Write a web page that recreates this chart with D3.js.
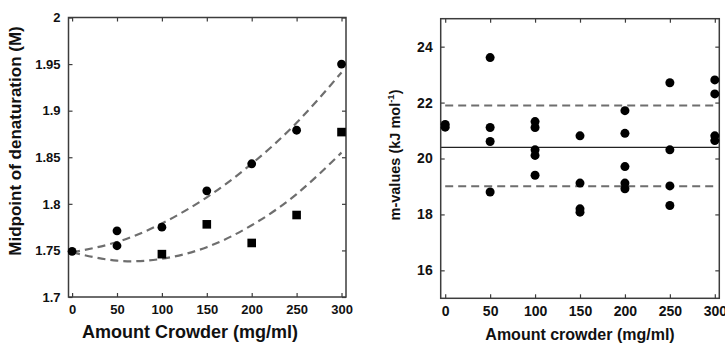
<!DOCTYPE html>
<html>
<head>
<meta charset="utf-8">
<script src="https://cdn.jsdelivr.net/npm/d3@7"></script>
<style>
  html, body { margin: 0; padding: 0; background: #fff; }
  svg { display: block; }
  text { font-family: "Liberation Sans", Arial, Helvetica, sans-serif; font-weight: bold; fill: #111; }
</style>
</head>
<body>
<svg id="chart" width="725" height="347"></svg>
<script>
// ---- Panel A: midpoint of denaturation vs crowder concentration ----
const crowderTicks = [0, 50, 100, 150, 200, 250, 300];
const midTicks = [1.7, 1.75, 1.8, 1.85, 1.9, 1.95, 2.0];

const circleConc = [0, 50, 50, 100, 150, 200, 250, 300];
const circleMid  = [1.749, 1.771, 1.755, 1.775, 1.814, 1.843, 1.879, 1.950];

const squareConc = [100, 150, 200, 250, 300];
const squareMid  = [1.746, 1.778, 1.758, 1.788, 1.877];

// dashed fit curves, sampled along the concentration axis
const fitConc  = [0, 50, 100, 150, 200, 250, 300];
const fitUpper = [1.748, 1.759, 1.779, 1.807, 1.843, 1.887, 1.941];
const fitLower = [1.748, 1.739, 1.741, 1.7535, 1.777, 1.8105, 1.855];

// ---- Panel B: m-values vs crowder concentration ----
const mTicks = [16, 18, 20, 22, 24];
const mConc = [0, 0,
  50, 50, 50, 50,
  100, 100, 100, 100, 100,
  150, 150, 150, 150,
  200, 200, 200, 200, 200,
  250, 250, 250, 250,
  300, 300, 300, 300];
const mValue = [21.22, 21.12,
  23.61, 21.11, 20.61, 18.80,
  21.32, 21.11, 20.31, 20.11, 19.40,
  20.81, 19.12, 18.20, 18.08,
  21.71, 20.90, 19.71, 19.12, 18.92,
  22.71, 20.31, 19.02, 18.32,
  22.81, 22.31, 20.81, 20.64];
const mMean = 20.40;
const mBand = [21.90, 19.01];

const svg = d3.select("#chart");
const frameColor = "#3c3c3c";
const dashColor = "#6e6e6e";

// draws the boxed frame with inward ticks on all four sides
function drawFrame(g, x, y, xt, yt, fs, pad, yFmt) {
  const [x0, x1] = x.range();
  const [y0, y1] = y.range();
  const tick = 4;
  const bottom = g.append("g").attr("transform", `translate(0,${y0})`)
    .call(d3.axisBottom(x).tickValues(xt).tickSizeInner(-tick).tickSizeOuter(0).tickPadding(pad));
  const top = g.append("g").attr("transform", `translate(0,${y1})`)
    .call(d3.axisTop(x).tickValues(xt).tickSizeInner(-tick).tickSizeOuter(0).tickFormat(""));
  const left = g.append("g").attr("transform", `translate(${x0},0)`)
    .call(d3.axisLeft(y).tickValues(yt).tickSizeInner(-tick).tickSizeOuter(0).tickPadding(pad).tickFormat(yFmt));
  const right = g.append("g").attr("transform", `translate(${x1},0)`)
    .call(d3.axisRight(y).tickValues(yt).tickSizeInner(-tick).tickSizeOuter(0).tickFormat(""));
  [bottom, top, left, right].forEach(a => {
    a.select(".domain").remove();
    a.selectAll(".tick line").attr("stroke", frameColor).attr("stroke-width", 1.2);
    a.selectAll("text").attr("font-size", fs).attr("fill", "#111")
      .attr("font-family", "'Liberation Sans', Arial, sans-serif").attr("font-weight", "bold");
  });
  g.append("rect")
    .attr("x", x0).attr("y", y1)
    .attr("width", x1 - x0).attr("height", y0 - y1)
    .attr("fill", "none").attr("stroke", frameColor).attr("stroke-width", 1.5);
}

// ---------- Panel A ----------
const xA = d3.scaleLinear().domain([-4, 305]).range([68.5, 346]);
const yA = d3.scaleLinear().domain([1.7, 2.0]).range([297, 17.5]);
const gA = svg.append("g");

const line = d3.line().curve(d3.curveNatural);
[fitUpper, fitLower].forEach(vals => {
  gA.append("path")
    .attr("d", line(fitConc.map((c, i) => [xA(c), yA(vals[i])])))
    .attr("fill", "none").attr("stroke", dashColor)
    .attr("stroke-width", 2.2).attr("stroke-dasharray", "8,5");
});

drawFrame(gA, xA, yA, crowderTicks, midTicks, 13, 8, d => String(+d.toFixed(2)));

gA.selectAll("circle.pt").data(circleConc).join("circle")
  .attr("class", "pt")
  .attr("cx", d => xA(d)).attr("cy", (d, i) => yA(circleMid[i]))
  .attr("r", 4.4).attr("fill", "#000");

const sq = 8.6;
gA.selectAll("rect.pt").data(squareConc).join("rect")
  .attr("class", "pt")
  .attr("x", d => xA(d) - sq / 2).attr("y", (d, i) => yA(squareMid[i]) - sq / 2)
  .attr("width", sq).attr("height", sq).attr("fill", "#000");

gA.append("text")
  .attr("x", 190).attr("y", 338).attr("text-anchor", "middle")
  .attr("font-size", 18).text("Amount Crowder (mg/ml)");
gA.append("text")
  .attr("transform", "translate(20.5,141) rotate(-90)")
  .attr("text-anchor", "middle").attr("font-size", 17)
  .text("Midpoint of denaturation (M)");

// ---------- Panel B ----------
const xB = d3.scaleLinear().domain([-5, 305]).range([440.7, 719.3]);
const yB = d3.scaleLinear().domain([15, 25]).range([298.3, 18.7]);
const gB = svg.append("g");

mBand.forEach(v => {
  gB.append("line")
    .attr("x1", xB(0)).attr("x2", xB(300))
    .attr("y1", yB(v)).attr("y2", yB(v))
    .attr("stroke", dashColor).attr("stroke-width", 2).attr("stroke-dasharray", "8,5");
});
gB.append("line")
  .attr("x1", xB.range()[0]).attr("x2", xB.range()[1])
  .attr("y1", yB(mMean)).attr("y2", yB(mMean))
  .attr("stroke", "#222").attr("stroke-width", 1.2);

drawFrame(gB, xB, yB, crowderTicks, mTicks, 14, 8, d => String(d));

gB.selectAll("circle.pt").data(mConc).join("circle")
  .attr("class", "pt")
  .attr("cx", d => xB(d)).attr("cy", (d, i) => yB(mValue[i]))
  .attr("r", 4.5).attr("fill", "#000");

gB.append("text")
  .attr("x", 580).attr("y", 340).attr("text-anchor", "middle")
  .attr("font-size", 16).text("Amount crowder (mg/ml)");
const yt = gB.append("text")
  .attr("transform", "translate(400,155) rotate(-90)")
  .attr("text-anchor", "middle").attr("font-size", 14.5);
yt.append("tspan").text("m-values (kJ mol");
yt.append("tspan").attr("font-size", 9.5).attr("dy", -6).text("-1");
yt.append("tspan").attr("dy", 6).text(")");
</script>
</body>
</html>
